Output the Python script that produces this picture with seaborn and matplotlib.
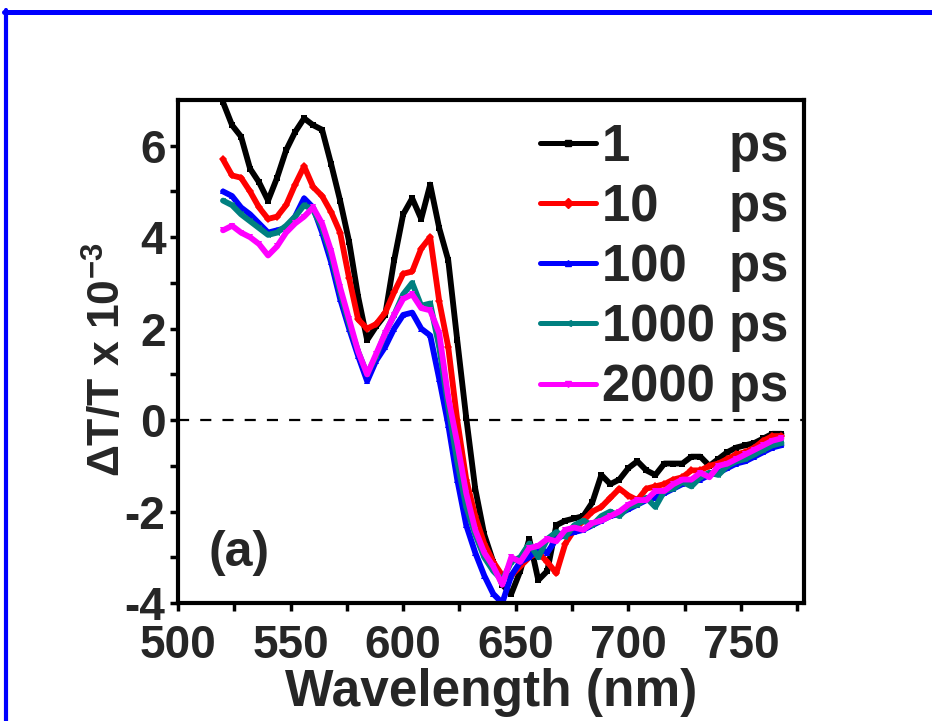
import numpy as np
import pandas as pd
import matplotlib
matplotlib.use("Agg")
import matplotlib.pyplot as plt
import seaborn as sns
from matplotlib.lines import Line2D

sns.set_theme(style="white")
plt.rcParams['font.family'] = ['Liberation Sans', 'DejaVu Sans']
plt.rcParams['font.weight'] = 'bold'
plt.rcParams['mathtext.fontset'] = 'custom'
plt.rcParams['mathtext.rm'] = 'Liberation Sans:bold'
plt.rcParams['mathtext.bf'] = 'Liberation Sans:bold'
plt.rcParams['mathtext.default'] = 'bf'
plt.rcParams['axes.unicode_minus'] = False

# ---- data ----
wavelength = [520, 524, 528, 532, 536, 540, 544, 548, 552, 556, 560, 564, 568, 572, 576,
              580, 584, 588, 592, 596, 600, 604, 608, 612, 616, 620, 624, 628, 632, 636,
              640, 644, 648, 652, 656, 660, 664, 668, 672, 676, 680, 684, 688, 692, 696,
              700, 704, 708, 712, 716, 720, 724, 728, 732, 736, 740, 744, 748, 752, 756,
              760, 764, 768]

dt_1ps = [6.95, 6.45, 6.2, 5.5, 5.2, 4.8, 5.3, 5.9, 6.3, 6.6, 6.45, 6.35, 5.6, 4.8, 3.9,
          2.7, 1.75, 2.05, 2.3, 3.5, 4.5, 4.85, 4.4, 5.15, 4.2, 3.5, 1.75, 0.05, -1.5, -2.5,
          -3.1, -3.6, -3.8, -3.3, -2.6, -3.5, -3.3, -2.3, -2.2, -2.15, -2.1, -1.8, -1.2, -1.4, -1.3,
          -1.05, -0.9, -1.1, -1.2, -0.95, -0.95, -0.95, -0.8, -0.8, -1.0, -0.85, -0.7, -0.6, -0.55, -0.5,
          -0.4, -0.3, -0.3]

dt_10ps = [5.7, 5.35, 5.3, 5.0, 4.65, 4.4, 4.45, 4.7, 5.15, 5.55, 5.1, 4.9, 4.55, 4.1, 3.1,
           2.2, 2.0, 2.1, 2.35, 2.8, 3.2, 3.25, 3.75, 4.0, 2.6, 1.6, 0.0, -1.3, -2.1, -2.7,
           -3.1, -3.4, -3.4, -3.2, -3.0, -2.9, -3.1, -3.35, -2.7, -2.4, -2.2, -2.0, -1.9, -1.7, -1.5,
           -1.65, -1.75, -1.5, -1.45, -1.4, -1.3, -1.25, -1.1, -1.1, -1.0, -0.95, -0.85, -0.75, -0.7, -0.6,
           -0.45, -0.35, -0.35]

dt_100ps = [5.0, 4.9, 4.65, 4.5, 4.3, 4.1, 4.15, 4.2, 4.45, 4.85, 4.65, 4.1, 3.45, 2.65, 2.0,
            1.4, 0.85, 1.3, 1.6, 2.0, 2.3, 2.35, 2.0, 1.85, 0.9, -0.1, -1.3, -2.3, -2.9, -3.4,
            -3.8, -4.0, -3.4, -3.1, -3.0, -2.8, -2.9, -2.6, -2.5, -2.45, -2.4, -2.3, -2.2, -2.1, -2.05,
            -1.95, -1.85, -1.75, -1.7, -1.6, -1.5, -1.4, -1.35, -1.3, -1.2, -1.15, -1.05, -0.95, -0.9, -0.8,
            -0.7, -0.6, -0.55]

dt_1000ps = [4.8, 4.7, 4.5, 4.35, 4.2, 4.05, 4.1, 4.25, 4.45, 4.7, 4.6, 4.2, 3.6, 2.8, 2.1,
             1.5, 1.0, 1.4, 1.9, 2.3, 2.75, 3.0, 2.5, 2.55, 1.6, 0.3, -0.9, -1.9, -2.5, -3.0,
             -3.3, -3.5, -3.1, -3.0, -2.7, -3.0, -2.6, -2.45, -2.55, -2.3, -2.2, -2.3, -2.1, -2.0, -2.1,
             -1.9, -1.85, -1.7, -1.9, -1.55, -1.5, -1.35, -1.45, -1.25, -1.15, -1.2, -1.0, -0.9, -0.85, -0.75,
             -0.65, -0.55, -0.5]

dt_2000ps = [4.15, 4.25, 4.1, 4.0, 3.85, 3.6, 3.8, 4.1, 4.3, 4.45, 4.65, 4.3, 3.7, 2.9, 2.2,
             1.5, 1.0, 1.45, 1.9, 2.3, 2.65, 2.75, 2.45, 2.4, 1.9, 0.5, -0.5, -1.6, -2.4, -2.9,
             -3.2, -3.6, -3.0, -3.1, -2.8, -2.75, -2.6, -2.65, -2.4, -2.35, -2.4, -2.25, -2.2, -2.1, -2.0,
             -1.85, -1.75, -1.75, -1.55, -1.55, -1.4, -1.3, -1.3, -1.15, -1.25, -1.0, -0.95, -0.85, -0.75, -0.65,
             -0.55, -0.45, -0.4]

delays = ["1", "10", "100", "1000", "2000"]
legend_labels = ["1       ps", "10     ps", "100   ps", "1000 ps", "2000 ps"]
colors = ["#000000", "#ff0000", "#0000ff", "#008080", "#ff00ff"]
markers = ["s", "D", "^", "<", "v"]

series = [dt_1ps, dt_10ps, dt_100ps, dt_1000ps, dt_2000ps]
df = pd.concat([pd.DataFrame({"wl": wavelength, "dt": s, "delay": d})
                for s, d in zip(series, delays)], ignore_index=True)

fig = plt.figure(figsize=(9.32, 7.21), dpi=100)
ax = fig.add_axes([178/932, 1-603/721, (804-178)/932, (603-100)/721])

sns.lineplot(data=df, x="wl", y="dt", hue="delay", style="delay",
             hue_order=delays, style_order=delays,
             palette=colors, markers=markers, dashes=False,
             linewidth=4.2, markersize=4.5, markeredgewidth=0,
             estimator=None, sort=False, legend=False, ax=ax)

ax.axhline(0, color="black", lw=1.6, ls=(0, (5, 5)), zorder=0)

ax.set_xlim(500, 778)
ax.set_ylim(-4, 7)
ax.set_xticks([500, 550, 600, 650, 700, 750])
ax.set_xticks([525, 575, 625, 675, 725, 775], minor=True)
ax.set_yticks([-4, -2, 0, 2, 4, 6])
ax.set_yticks([-3, -1, 1, 3, 5], minor=True)

for sp in ax.spines.values():
    sp.set_linewidth(3)
    sp.set_color("black")

ax.tick_params(axis="both", which="both", direction="out", length=6, width=2.5,
               color="black", bottom=True, left=True, top=False, right=False,
               labelsize=33)
ax.tick_params(axis="x", which="major", pad=9)
ax.tick_params(axis="y", which="major", pad=3)
ax.tick_params(axis="both", which="minor", labelsize=0)
for lab in ax.get_xticklabels() + ax.get_yticklabels():
    lab.set_fontweight("bold")

ax.set_xlabel("Wavelength (nm)", fontsize=37, fontweight="bold", labelpad=0)
ax.set_ylabel("ΔT/T x 10$^{-3}$", fontsize=32, fontweight="bold")
ax.yaxis.set_label_coords(-0.077, 0.483)

ax.text(0.048, 0.1, "(a)", transform=ax.transAxes, fontsize=36,
        fontweight="bold", ha="left", va="center")

handles = [Line2D([0, 0.5, 1], [0, 0, 0], color=c, lw=3.6, marker=m, markersize=5,
                  markevery=[1]) for c, m in zip(colors, markers)]
leg = ax.legend(handles, legend_labels, loc="upper right", bbox_to_anchor=(1.0, 0.985),
                frameon=False, prop={"weight": "bold", "size": 36.5},
                handlelength=1.12, handletextpad=0.12, labelspacing=0.22,
                borderaxespad=0.1, borderpad=0.2)

# blue frame around figure (top and left edges visible)
fig.add_artist(Line2D([4/932, 1.0], [1-11.5/721, 1-11.5/721], color="#0000ff",
                      lw=3.6, transform=fig.transFigure))
fig.add_artist(Line2D([6/932, 6/932], [0, 1-9.5/721], color="#0000ff",
                      lw=3.0, transform=fig.transFigure))

fig.savefig("out.png", dpi=100)
